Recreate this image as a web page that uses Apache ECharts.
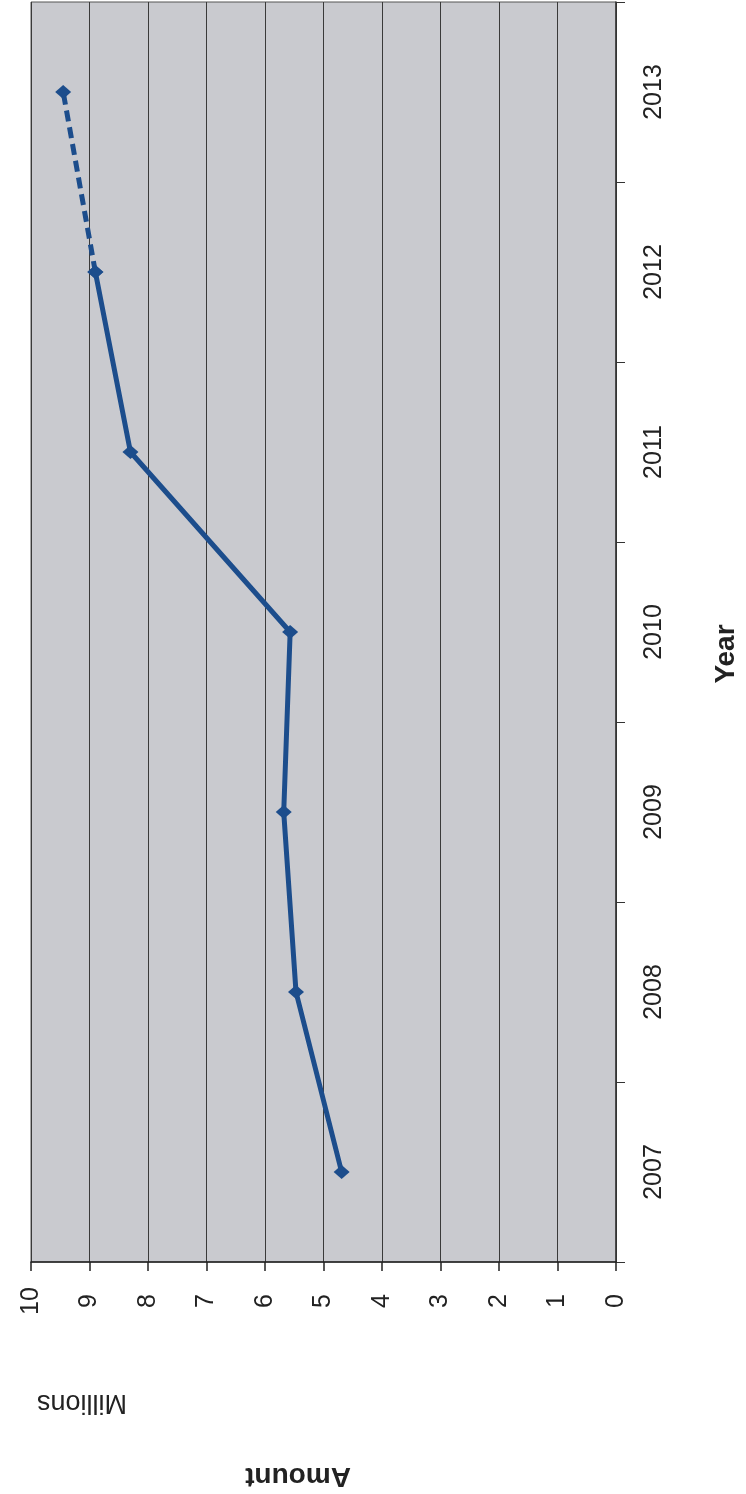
<!DOCTYPE html>
<html>
<head>
<meta charset="utf-8">
<script src="https://cdn.jsdelivr.net/npm/echarts@6/dist/echarts.min.js"></script>
<style>
html,body{margin:0;padding:0;background:#fff;}
#chart{width:746px;height:1494px;}
</style>
</head>
<body>
<div id="chart"></div>
<script>
var years = ['2007', '2008', '2009', '2010', '2011', '2012', '2013'];
var actual = [4.69, 5.47, 5.68, 5.57, 8.3, 8.9, null];
var projected = [null, null, null, null, null, 8.9, 9.45];
var valueTicks = [0, 1, 2, 3, 4, 5, 6, 7, 8, 9, 10];
var titleX = 'Amount';
var unitLabel = 'Millions';
var titleY = 'Year';

var lineColor = '#1c4d8c';
var font = 'Liberation Sans, Arial, sans-serif';

var chart = echarts.init(document.getElementById('chart'), null, {renderer: 'canvas'});
chart.setOption({
  animation: false,
  backgroundColor: '#ffffff',
  grid: {
    left: 31, right: 130, top: 2, bottom: 232,
    show: true,
    backgroundColor: '#c9cacf',
    borderColor: '#555',
    borderWidth: 1,
    containLabel: false,
    outerBoundsMode: 'none'
  },
  xAxis: {
    type: 'value',
    position: 'bottom',
    inverse: true,
    min: valueTicks[0],
    max: valueTicks[valueTicks.length - 1],
    interval: 1,
    axisLine: {show: true, lineStyle: {color: '#222', width: 1.5}},
    axisTick: {show: true, inside: false, length: 9, lineStyle: {color: '#222', width: 1.5}},
    splitLine: {show: true, lineStyle: {color: '#3a3a3a', width: 1}},
    axisLabel: {
      rotate: 90, margin: 39, align: 'center', verticalAlign: 'middle',
      fontFamily: font, fontSize: 25, color: '#222'
    }
  },
  yAxis: {
    type: 'category',
    position: 'right',
    data: years,
    boundaryGap: true,
    axisLine: {show: true, lineStyle: {color: '#333', width: 1.5}},
    axisTick: {show: true, inside: false, length: 9, lineStyle: {color: '#333', width: 1}},
    splitLine: {show: false},
    axisLabel: {
      rotate: 90, margin: 26,
      fontFamily: font, fontSize: 25, color: '#222'
    }
  },
  series: [
    {
      type: 'line',
      data: actual.map(function (v, i) { return v == null ? [null, years[i]] : [v, years[i]]; }),
      symbol: 'diamond',
      symbolSize: [16, 14],
      showSymbol: true,
      connectNulls: false,
      lineStyle: {color: lineColor, width: 5},
      itemStyle: {color: lineColor},
      z: 3
    },
    {
      type: 'line',
      data: projected.map(function (v, i) { return v == null ? [null, years[i]] : [v, years[i]]; }),
      symbol: 'diamond',
      symbolSize: [16, 14],
      connectNulls: false,
      lineStyle: {color: lineColor, width: 5, type: [11, 6]},
      itemStyle: {color: lineColor},
      z: 2
    }
  ],
  graphic: [
    {
      type: 'text', x: 82, y: 1402, rotation: Math.PI,
      style: {text: unitLabel, fontFamily: font, fontSize: 27, fill: '#222', textAlign: 'center', textVerticalAlign: 'middle'}
    },
    {
      type: 'text', x: 298, y: 1476, rotation: Math.PI,
      style: {text: titleX, fontFamily: font, fontSize: 28, fontWeight: 'bold', fill: '#222', textAlign: 'center', textVerticalAlign: 'middle'}
    },
    {
      type: 'text', x: 726, y: 654, rotation: Math.PI / 2,
      style: {text: titleY, fontFamily: font, fontSize: 28, fontWeight: 'bold', fill: '#222', textAlign: 'center', textVerticalAlign: 'middle'}
    }
  ]
});
</script>
</body>
</html>
